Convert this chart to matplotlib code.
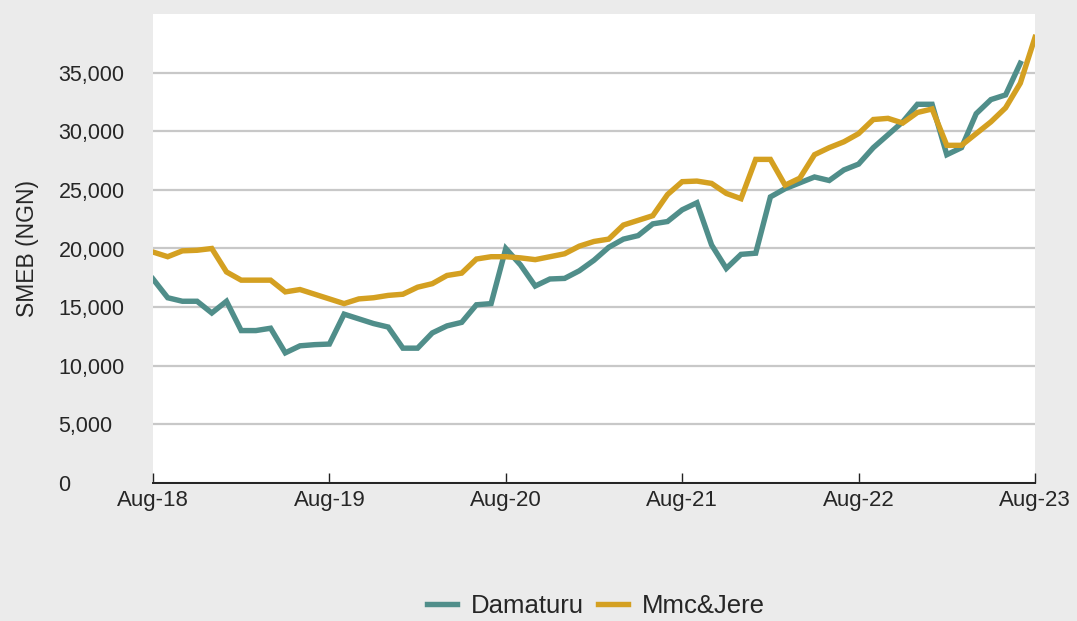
import matplotlib
matplotlib.use("Agg")
import matplotlib.pyplot as plt
import numpy as np

months = list(range(61))
tick_positions = [0, 12, 24, 36, 48, 60]
tick_labels = ["Aug-18", "Aug-19", "Aug-20", "Aug-21", "Aug-22", "Aug-23"]
y_ticks = [0, 5000, 10000, 15000, 20000, 25000, 30000, 35000]

damaturu = [17400, 15800, 15500, 15500, 14500, 15500, 13000, 13000, 13200, 11100,
            11700, 11800, 11850, 14400, 14000, 13600, 13300, 11500, 11500, 12800,
            13400, 13700, 15200, 15300, 20000, 18600, 16800, 17400, 17450, 18100,
            19000, 20100, 20800, 21100, 22100, 22300, 23300, 23900, 20300, 18300,
            19500, 19600, 24400, 25100, 25600, 26100, 25800, 26700, 27200, 28600,
            29700, 30800, 32300, 32300, 28000, 28600, 31500, 32700, 33100, 35800,
            np.nan]

mmc_jere = [19700, 19300, 19800, 19850, 20000, 18000, 17300, 17300, 17300, 16300,
            16500, 16100, 15700, 15300, 15700, 15800, 16000, 16100, 16700, 17000,
            17700, 17900, 19100, 19300, 19300, 19200, 19050, 19300, 19550, 20200,
            20600, 20800, 22000, 22400, 22800, 24600, 25700, 25750, 25550, 24700,
            24250, 27600, 27600, 25400, 26000, 28000, 28600, 29100, 29800, 31000,
            31100, 30700, 31600, 31900, 28800, 28800, 29800, 30800, 32000, 34100,
            38000]

plt.rcParams['font.family'] = ['Liberation Sans', 'DejaVu Sans']

fig = plt.figure(figsize=(10.77, 6.21), dpi=100)
fig.patch.set_facecolor('#ebebeb')
ax = fig.add_axes([153/1077, (621-483)/621, (1035-153)/1077, (483-14)/621])
ax.set_facecolor('white')

ax.plot(months, damaturu, color='#508e8a', lw=3.9, label='Damaturu',
        solid_joinstyle='miter', zorder=3)
ax.plot(months, mmc_jere, color='#d4a021', lw=3.9, label='Mmc&Jere',
        solid_joinstyle='miter', zorder=3)

ax.set_xlim(0, 60)
ax.set_ylim(0, 40000)
ax.set_yticks(y_ticks)
ax.set_yticklabels([f"{v:,}" for v in y_ticks])
ax.set_xticks(tick_positions)
ax.set_xticklabels(tick_labels)

ax.grid(axis='y', color='#c8c8c8', lw=1.6, zorder=1)
ax.set_axisbelow(True)
for s in ['top', 'right', 'left']:
    ax.spines[s].set_visible(False)
ax.spines['bottom'].set_color('#222222')
ax.spines['bottom'].set_linewidth(1.4)

ax.tick_params(axis='y', length=0, labelsize=15.5, pad=68, colors='#262626')
for lbl in ax.get_yticklabels():
    lbl.set_horizontalalignment('left')
ax.tick_params(axis='x', direction='in', length=7, width=1, color='#222222',
               labelsize=16, pad=5, labelcolor='#262626')

ax.set_ylabel('SMEB (NGN)', fontsize=16.5, color='#262626')
ax.yaxis.set_label_coords(-0.129, 0.5)

leg = fig.legend(loc='center', bbox_to_anchor=(596/1077, 15/621), ncol=2,
                 frameon=False, fontsize=18.5, handlelength=1.15,
                 handletextpad=0.55, columnspacing=0.55)
for t in leg.get_texts():
    t.set_color('#262626')

fig.savefig('out.png', dpi=100, facecolor=fig.get_facecolor())
